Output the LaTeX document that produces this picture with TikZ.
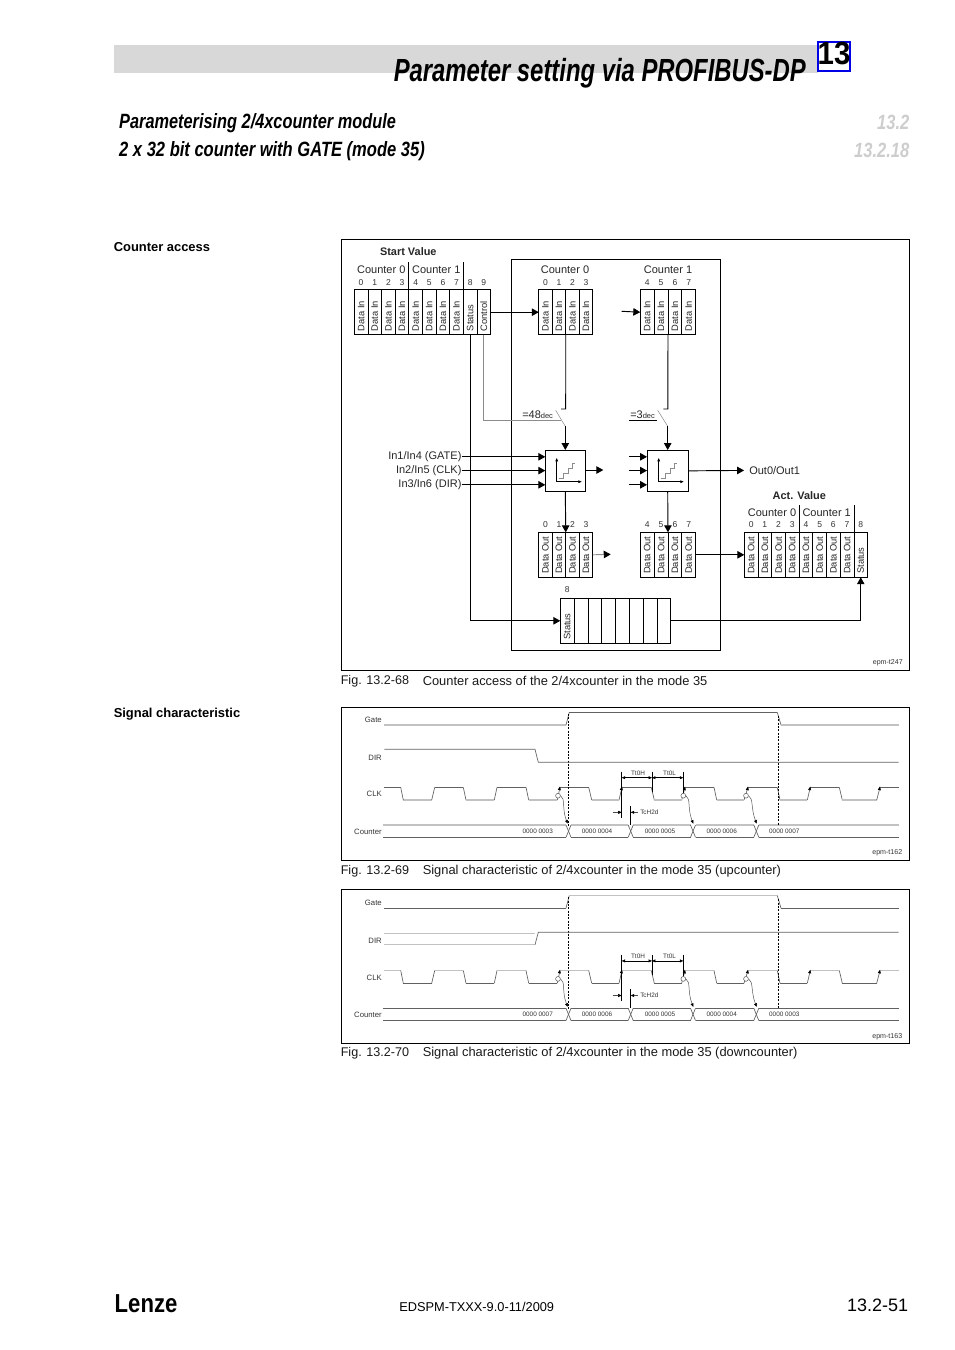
\documentclass[tikz,border=0pt]{standalone}
\usepackage{fontspec}
\setmainfont{Liberation Sans}
\usetikzlibrary{arrows.meta,positioning}
\definecolor{bandgray}{RGB}{216,216,216}
\definecolor{headgray}{RGB}{205,205,205}
\definecolor{tabblue}{RGB}{0,0,230}
\newcommand{\fsize}[1]{\fontsize{#1}{#1}\selectfont}
\newcommand{\celltext}[1]{\rotatebox{90}{\makebox[28.5pt][l]{#1}}}
\tikzset{
  sig/.style={-{Triangle[length=5.2pt,width=5.6pt,black]},line width=.7pt},
  wire/.style={line width=.7pt},
  graywire/.style={line width=.55pt,draw=black!45},
  cell/.style={draw,line width=.6pt,outer sep=0pt,minimum width=10.23pt,minimum height=33.75pt,inner sep=0pt,font=\fsize{7},text=black!85},
  nolabel/.style={font=\fsize{6.4},inner sep=0pt,text height=4.7pt,text depth=0pt,text=black!80},
  cntlabel/.style={font=\fsize{8.25},inner sep=0pt,text=black!85},
  boldlabel/.style={font=\bfseries\fsize{8.2},inner sep=0pt,text=black!85},
  caption/.style={font=\fsize{9.65},inner sep=0pt,anchor=west,text=black!90},
  figno/.style={font=\fsize{9.45},inner sep=0pt,anchor=west,text=black!90},
  epmlabel/.style={font=\fsize{5.3},inner sep=0pt,anchor=east,text=black!80},
  frame/.style={draw,line width=.75pt},
  sigdark/.style={draw=black!62,line width=.5pt},
  siglight/.style={draw=black!24,line width=.9pt},
  smalltext/.style={font=\fsize{4.8},inner sep=0pt,text=black!80},
  chartname/.style={font=\fsize{5.8},inner sep=0pt,anchor=east,text=black!80},
  tinytip/.style={-{Triangle[length=2.6pt,width=2.2pt,black]},line width=.35pt,draw=black!70},
  measure/.style={{Triangle[length=2.6pt,width=2.2pt,black]}-{Triangle[length=2.6pt,width=2.2pt,black]},line width=.35pt},
  marker/.style={draw=black,line width=.45pt,dash pattern=on 1.5pt off 1pt},
  clkring/.style={circle,draw=black!70,fill=white,line width=.35pt,minimum size=3.6pt,inner sep=0pt}
}
% one timing chart, #1 is the name prefix, #2..#6 the counter values
\newcommand{\timingchart}[6]{
  \node[chartname] (#1gate) at (382,720) {Gate};
  \node[chartname] (#1dir) at (382,757.7) {DIR};
  \node[chartname] (#1clk) at (382,794.3) {CLK};
  \node[chartname] (#1cnt) at (382,831.7) {Counter};
  % Gate
  \draw[gatelo] (384.3,725)--(566,725);
  \draw[sigdark] (566,725)--(569.3,712.3);
  \draw[gatehi] (569.3,712.3)--(777.3,712.3);
  \draw[sigdark] (777.3,712.3)--(781,725);
  \draw[gatelo] (781,725)--(898.7,725);
  % CLK
  \draw[clklo] (403.3,800)--(431.7,800);
  \draw[clkhi] (384.3,787.3)--(400.7,787.3);
  \draw[sigdark] (400.7,787.3)--(403.3,800);
  \foreach \ra/\rb/\fa/\fb in {431.7/434.7/463.3/466,494.3/497/526/528.7,557.3/560/588.7/591.7,619/622/651.3/654.3,681.7/685/714/716.7,744/748/777.3/780,807.3/810.3/839.3/842.3}{
    \draw[sigdark] (\ra,800)--(\rb,787.3);
    \draw[clkhi] (\rb,787.3)--(\fa,787.3);
    \draw[sigdark] (\fa,787.3)--(\fb,800);
  }
  \foreach \fb/\ra in {466/494.3,528.7/557.3,591.7/619,654.3/681.7,716.7/744,780/807.3,842.3/876.7}
    \draw[clklo] (\fb,800)--(\ra,800);
  \draw[sigdark] (876.7,800)--(880,787.3);
  \draw[clkhi] (880,787.3)--(898.7,787.3);
  \foreach \ra in {560,622,685,748,810.3,880}
    \draw[tinytip] (\ra-.7,790)--(\ra,786.6);
  % Counter bus
  \foreach \xa/\xb in {383.3/566,571/628.2,633.2/690.5,695.5/753.8,758.8/898.7}{
    \draw[cnttop] (\xa,825)--(\xb,825);
    \draw[cntbot] (\xa,837.3)--(\xb,837.3);
  }
  \foreach \xc in {568.5,630.7,693,756.3}{
    \draw[sigdark] (\xc-2.5,825)--(\xc+2.5,837.3);
    \draw[sigdark] (\xc+2.5,825)--(\xc-2.5,837.3);
  }
  \node[smalltext] (#1va) at (537.7,831.5) {#2};
  \node[smalltext] (#1vb) at (597,831.5) {#3};
  \node[smalltext] (#1vc) at (660,831.5) {#4};
  \node[smalltext] (#1vd) at (721.7,831.5) {#5};
  \node[smalltext] (#1ve) at (784.3,831.5) {#6};
  % Gate markers
  \draw[marker] (568.3,714)--(568.3,826);
  \draw[marker] (778.3,716)--(778.3,825);
  % clock to counter
  \foreach \xr/\xt/\n in {558/567.7/a,683.3/693.3/b,746/756.7/c}{
    \node[clkring] (#1ring\n) at (\xr,795.7) {};
    \coordinate (#1hit\n) at (\xt,823.6);
    \draw[tinytip] (#1ring\n.east) .. controls +(5,3) and +(-6,-15) .. (#1hit\n);
  }
  % timing marks
  \draw[line width=.35pt] (621.7,771.7)--(621.7,818);
  \draw[line width=.35pt] (652,771.7)--(652,791.7);
  \draw[line width=.35pt] (683.3,771.7)--(683.3,793);
  \draw[line width=.35pt] (630.7,806)--(630.7,825);
  \draw[measure] (621.7,777.7)--(652,777.7);
  \draw[measure] (652,777.7)--(683.3,777.7);
  \node[smalltext] (#1thi) at (638,773.4) {Tt0H};
  \node[smalltext] (#1tlo) at (669.5,773.4) {Tt0L};
  \draw[tinytip] (612.7,812.3)--(621.7,812.3);
  \draw[tinytip] (637.5,812.3)--(630.7,812.3);
  \node[smalltext,anchor=west] (#1tch) at (640,812.3) {TcH2d};
}
\begin{document}
\begin{tikzpicture}[x=.75pt,y=-.75pt]
  \path[use as bounding box] (0,0) rectangle (954,1350);
  % page head
  \fill[bandgray] (114,45) rectangle (818,73);
  \node[inner sep=0pt,anchor=east,font=\bfseries\itshape\fsize{24},xscale=.745] (title) at (806,73.5) {Parameter setting via PROFIBUS-DP};
  \node[draw=tabblue,line width=1.2pt,outer sep=0pt,minimum width=24pt,minimum height=21.5pt,inner sep=0pt] (tab) at (834,56.5) {};
  \node[inner sep=0pt,font=\bfseries\fsize{24},xscale=.92] (tabnum) at (834,53.5) {13};
  \node[inner sep=0pt,anchor=west,font=\bfseries\itshape\fsize{15.5},xscale=.79] (subone) at (119,123) {Parameterising 2/4xcounter module};
  \node[inner sep=0pt,anchor=west,font=\bfseries\itshape\fsize{15.5},xscale=.8] (subtwo) at (119,151) {2 x 32 bit counter with GATE (mode 35)};
  \node[inner sep=0pt,anchor=east,font=\bfseries\itshape\fsize{15.5},xscale=.8,text=headgray] (secone) at (909.5,122.5) {13.2};
  \node[inner sep=0pt,anchor=east,font=\bfseries\itshape\fsize{15.5},xscale=.8,text=headgray] (sectwo) at (909.5,150.5) {13.2.18};
  \node[inner sep=0pt,anchor=west,font=\bfseries\fsize{9.7}] (headaccess) at (113.5,247.2) {Counter access};
  \node[inner sep=0pt,anchor=west,font=\bfseries\fsize{9.7}] (headsignal) at (113.5,714.2) {Signal characteristic};

  % counter access
  \draw[frame] (341.7,239) rectangle (909.5,670.5);
  \draw[frame,line width=.6pt] (511.3,259.7) rectangle (720.3,650.3);
  \node[boldlabel] (startval) at (408.3,251.3) {Start Value};
  \node[cntlabel] (svcnta) at (381.3,269.3) {Counter 0};
  \node[cntlabel] (svcntb) at (436.3,269.3) {Counter 1};
  \draw[wire] (408.4,262)--(408.4,289.7);
  \draw[wire] (463.7,262)--(463.7,289.7);
  \foreach \i in {0,...,7}
    \node[cell] (sv\i) at ({361.1+13.64*\i},312.2) {\celltext{Data In}};
  \node[cell] (sv8) at ({361.1+13.64*8},312.2) {\celltext{Status}};
  \node[cell] (sv9) at ({361.1+13.64*9},312.2) {\celltext{Control}};
  \foreach \i in {0,...,9}
    \node[nolabel,above=3.3pt of sv\i] (svn\i) {\i};

  \node[cntlabel] (cicnta) at (565,269.3) {Counter 0};
  \node[cntlabel] (cicntb) at (668,269.3) {Counter 1};
  \foreach \i in {0,...,3}{
    \node[cell,minimum width=10.13pt] (ci\i) at ({545.5+13.5*\i},312.2) {\celltext{Data In}};
    \node[nolabel,above=3.3pt of ci\i] (cin\i) {\i};
  }
  \foreach \i in {4,...,7}{
    \node[cell,minimum width=10.39pt] (ci\i) at ({647.2+13.85*(\i-4)},312.2) {\celltext{Data In}};
    \node[nolabel,above=3.3pt of ci\i] (cin\i) {\i};
  }
  \coordinate (cifree) at (621.7,311.3);
  \draw[sig] (sv9.east) -- (ci0.west);
  \draw[sig] (cifree) -- (ci4.west);

  % compare boxes
  \node[draw,line width=.65pt,outer sep=0pt,minimum width=30.3pt,minimum height=31.3pt,inner sep=0pt] (cnta) at (565.5,470.85) {};
  \node[draw,line width=.65pt,outer sep=0pt,minimum width=31.2pt,minimum height=31.3pt,inner sep=0pt] (cntb) at (667.85,470.85) {};
  \foreach \dx in {0,102}{
    \begin{scope}[shift={(\dx,0)}]
      \draw[-{Triangle[length=2.5pt,width=2pt]},line width=.45pt] (556.7,481.7)--(556.7,458);
      \draw[-{Triangle[length=2.5pt,width=2pt]},line width=.45pt] (556.7,481.7)--(581.7,481.7);
      \draw[graywire,line width=.4pt] (558.5,478.5)--(563,478.5)--(563,473.5)--(568,473.5)--(568,468.5)--(572,468.5)--(572,463.5)--(575,463.5);
    \end{scope}
  }
  \coordinate (swatop) at (565.7,409);
  \coordinate (swatick) at (561,409);
  \coordinate (swalo) at (565.3,426.3);
  \coordinate (swahi) at (555.7,410.3);
  \coordinate (swaleft) at (560.7,420.3);
  \draw[wire] (ci1.south east) -- (swatop) -- (swatick);
  \draw[graywire,line width=.4pt] (swahi) -- (swalo);
  \draw[sig] (swalo) -- (swalo |- cnta.north);
  \draw[graywire] (sv9.south) |- (swaleft);
  \node[cntlabel,anchor=west] (eqa) at (522,414.7) {=48\raisebox{-.6pt}{\fsize{5.6}dec}};
  \coordinate (swbtop) at (667.9,409);
  \coordinate (swbtick) at (663.3,409);
  \coordinate (swblo) at (667.7,426.3);
  \coordinate (swbhi) at (657.7,410.3);
  \coordinate (swbfree) at (629,420.3);
  \coordinate (swbleft) at (657.3,420.3);
  \draw[wire] (ci5.south east) -- (swbtop) -- (swbtick);
  \draw[graywire,line width=.4pt] (swbhi) -- (swblo);
  \draw[sig] (swblo) -- (swblo |- cntb.north);
  \draw[wire] (swbfree) -- (swbleft);
  \node[cntlabel,anchor=west] (eqb) at (630,414.7) {=3\raisebox{-.6pt}{\fsize{5.6}dec}};

  % inputs and outputs
  \node[cntlabel,anchor=east] (ina) at (461.7,456.8) {In1/In4 (GATE)};
  \node[cntlabel,anchor=east] (inb) at (461.7,470.6) {In2/In5 (CLK)};
  \node[cntlabel,anchor=east] (inc) at (461.7,484.8) {In3/In6 (DIR)};
  \foreach \n in {ina,inb,inc}{
    \draw[sig] (\n.east) -- (\n.east -| cnta.west);
    \coordinate (\n free) at (629,0 |- \n.east);
    \draw[sig] (\n free) -- (\n free -| cntb.west);
  }
  \coordinate (outa) at (603.3,470);
  \draw[sig] (cnta.east |- outa) -- (outa);
  \node[cntlabel,anchor=west] (outb) at (749,470.4) {Out0/Out1};
  \draw[sig] (cntb.east) -- ([xshift=-3.7pt]outb.west);

  % data out
  \foreach \i in {0,...,3}{
    \node[cell,minimum width=10.13pt] (co\i) at ({545.5+13.5*\i},554.8) {\celltext{Data Out}};
    \node[nolabel,above=3.3pt of co\i] (con\i) {\i};
  }
  \foreach \i in {4,...,7}{
    \node[cell,minimum width=10.39pt] (co\i) at ({647.2+13.85*(\i-4)},554.8) {\celltext{Data Out}};
    \node[nolabel,above=3.3pt of co\i] (con\i) {\i};
  }
  \draw[sig] (swalo |- cnta.south) -- (co1.north east);
  \draw[sig] (swblo |- cntb.south) -- (co5.north east);
  \coordinate (coafree) at (610.7,554.3);
  \draw[sig,draw=black!45] (co3.east) -- (coafree);

  % actual value
  \node[boldlabel] (actval) at (799.3,496) {Act. Value};
  \node[cntlabel] (avcnta) at (772,512.3) {Counter 0};
  \node[cntlabel] (avcntb) at (826.7,512.3) {Counter 1};
  \draw[wire] (799.2,505)--(799.2,532.3);
  \draw[wire] (854.1,505)--(854.1,532.3);
  \foreach \i in {0,...,7}
    \node[cell,minimum width=10.28pt] (av\i) at ({751.15+13.7*\i},554.8) {\celltext{Data Out}};
  \node[cell,minimum width=10.28pt] (av8) at ({751.15+13.7*8},554.8) {\celltext{Status}};
  \foreach \i in {0,...,8}
    \node[nolabel,above=3.3pt of av\i] (avn\i) {\i};
  \draw[sig] (co7.east) -- (av0.west);

  % status row
  \node[cell,minimum width=10.35pt] (st0) at (567.2,620.8) {\celltext{Status}};
  \foreach \i in {1,...,7}
    \node[cell,minimum width=10.35pt] (st\i) at ({567.2+13.8*\i},620.8) {};
  \node[nolabel,above=3.8pt of st0] (stn) {8};
  \draw[sig] (sv8.south) |- (st0.west);
  \draw[sig] (st7.east) -| (av8.south);
  \node[epmlabel] (epma) at (903,662.7) {epm-t247};
  \node[figno] (figa) at (340.5,681.3) {Fig. 13.2-68};
  \node[caption] (capa) at (422.5,681.3) {Counter access of the 2/4xcounter in the mode 35};

  % upcounter
  \draw[frame] (341.7,707.3) rectangle (909.5,860);
  \begin{scope}[gatelo/.style=siglight,gatehi/.style=sigdark,clklo/.style=siglight,clkhi/.style=sigdark,cnttop/.style=siglight,cntbot/.style=sigdark]
    \timingchart{up}{0000 0003}{0000 0004}{0000 0005}{0000 0006}{0000 0007}
  \end{scope}
  \draw[sigdark] (384.3,749.3)--(535,749.3)--(538.3,762.3)--(898.7,762.3);
  \node[epmlabel] (epmb) at (902.5,852.5) {epm-t162};
  \node[figno] (figb) at (340.5,871.3) {Fig. 13.2-69};
  \node[caption] (capb) at (422.5,871.3) {Signal characteristic of 2/4xcounter in the mode 35 (upcounter)};

  % downcounter
  \draw[frame] (341.7,889.3) rectangle (909.5,1043);
  \begin{scope}[shift={(0,183.2)},gatelo/.style=sigdark,gatehi/.style=siglight,clklo/.style=sigdark,clkhi/.style=siglight,cnttop/.style=sigdark,cntbot/.style=sigdark]
    \timingchart{dn}{0000 0007}{0000 0006}{0000 0005}{0000 0004}{0000 0003}
  \end{scope}
  \draw[siglight] (384.3,933.7)--(535,933.7);
  \draw[siglight] (384.3,944.8)--(535,944.8);
  \draw[sigdark] (535,944.8)--(538.3,932.3)--(898.7,932.3);
  \node[epmlabel] (epmc) at (902.5,1036.3) {epm-t163};
  \node[figno] (figc) at (340.5,1053.3) {Fig. 13.2-70};
  \node[caption] (capc) at (422.5,1053.3) {Signal characteristic of 2/4xcounter in the mode 35 (downcounter)};

  % page foot
  \node[inner sep=0pt,anchor=west,font=\bfseries\fsize{19.5},xscale=.85] (logo) at (114.5,1303.5) {Lenze};
  \node[inner sep=0pt,anchor=west,font=\fsize{9.6}] (docno) at (399,1306.5) {EDSPM-TXXX-9.0-11/2009};
  \node[inner sep=0pt,anchor=east,font=\fsize{13.5}] (pageno) at (908.5,1305.5) {13.2-51};
\end{tikzpicture}
\end{document}
